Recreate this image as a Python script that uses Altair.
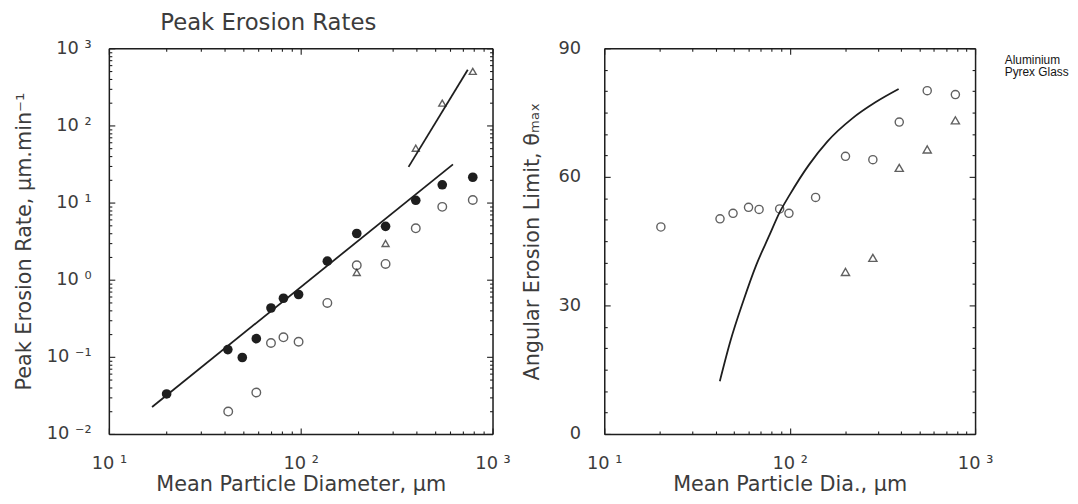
import json
import altair as alt
import pandas as pd

# ---------------- data ----------------
# Left panel: peak erosion rate vs mean particle diameter
filled_x = [20, 41.7, 49.6, 58.7, 70, 81.3, 97.5, 137.7, 196, 277, 398, 547, 789]
filled_y = [0.033, 0.124, 0.098, 0.172, 0.43, 0.575, 0.643, 1.74, 3.97, 4.92, 10.7, 17.0, 21.3]
open_x = [41.9, 58.7, 70, 81.3, 97.5, 137.7, 196, 277, 398, 547, 789]
open_y = [0.0195, 0.0345, 0.151, 0.179, 0.157, 0.50, 1.54, 1.60, 4.64, 8.8, 10.8]
tri_x = [196, 277, 398, 547, 789]
tri_y = [1.24, 2.95, 50.7, 195, 502]
fit_low_x = [16.8, 622]
fit_low_y = [0.0224, 31.3]
fit_high_x = [365, 743]
fit_high_y = [29, 527]

# Right panel: angular erosion limit vs mean particle diameter
alu_x = [20.2, 42.1, 49.5, 60, 68.4, 88.3, 99.1, 138, 200, 281, 390, 552, 783]
alu_y = [48.3, 50.2, 51.5, 52.9, 52.4, 52.5, 51.5, 55.2, 64.8, 64.0, 72.8, 80.1, 79.2]
pyrex_x = [200, 281, 390, 552, 783]
pyrex_y = [37.8, 41.1, 62.1, 66.4, 73.2]
curve_x = [42, 48, 56, 66, 78, 88, 100, 127, 160, 217, 290, 387]
curve_y = [12.3, 21.8, 30.8, 39.4, 46.5, 51.6, 55.8, 62.8, 68.3, 73.6, 77.4, 80.5]
materials = ["Aluminium", "Pyrex Glass"]

# ticks and tick labels
x_major = [10, 100, 1000]
x_major_labels = ["10 \u00b9", "10 \u00b2", "10 \u00b3"]
x_minor = [k * 10 for k in range(2, 10)] + [k * 100 for k in range(2, 10)]
ly_major = [0.01, 0.1, 1, 10, 100, 1000]
ly_major_labels = ["10 \u207b\u00b2", "10 \u207b\u00b9", "10 \u2070",
                   "10 \u00b9", "10 \u00b2", "10 \u00b3"]
ly_minor = [k * 10.0 ** e for e in range(-2, 3) for k in range(2, 10)]
ry_major = [0, 30, 60, 90]
ry_minor = [v for v in range(5, 90, 5) if v % 30 != 0]

# ---------------- style ----------------
FONT = "DejaVu Sans"
INK = "#1e1e1e"
TXT = "#3c3c3c"
LW, RW, H = 388, 375, 390
TICK_MAJ, TICK_MIN = 6, 3

x_lab_expr = f"{json.dumps(x_major_labels)}[round(log(datum.value)/LN10) - 1]"
ly_lab_expr = f"{json.dumps(ly_major_labels)}[round(log(datum.value)/LN10) + 2]"

xlog = alt.Scale(type="log", domain=[10, 1000], nice=False)
ylog = alt.Scale(type="log", domain=[0.01, 1000], nice=False)
ylin = alt.Scale(type="linear", domain=[0, 90], nice=False, zero=True)


def tick_axis(orient, offset, values, size, frame):
    return alt.Axis(orient=orient, offset=offset, values=values, tickSize=size,
                    labels=False, domain=frame, domainColor=INK, domainWidth=1.5,
                    grid=False, ticks=True, tickColor=INK, tickWidth=1.1, title=None)


def tick_layers(yscale, y_maj, y_min, W):
    anchor = pd.DataFrame({"x": [100], "y": [y_maj[1]]})
    layers = []
    for (xo, yo, xoff, yoff) in [("top", "right", -H, -W), ("bottom", "left", -H, -W)]:
        for vals_x, vals_y, size, frame in [(x_major, y_maj, TICK_MAJ, True),
                                            (x_minor, y_min, TICK_MIN, False)]:
            layers.append(
                alt.Chart(anchor).mark_point(opacity=0).encode(
                    x=alt.X("x:Q", scale=xlog, axis=tick_axis(xo, xoff, vals_x, size, frame)),
                    y=alt.Y("y:Q", scale=yscale, axis=tick_axis(yo, yoff, vals_y, size, frame)),
                )
            )
    return layers


def main_x(title):
    return alt.X("x:Q", scale=xlog, axis=alt.Axis(
        orient="bottom", values=x_major, labelExpr=x_lab_expr, ticks=False, domain=False,
        grid=False, labelPadding=21, labelFontSize=18, labelFont=FONT, labelColor=TXT,
        labelFlush=False, labelOverlap=False, title=title, titleFontSize=21,
        titleFont=FONT, titleFontWeight="normal", titleColor=TXT, titlePadding=1))


def plain_x():
    return alt.X("x:Q", scale=xlog, axis=None)


# ---------------- left panel ----------------
df_filled = pd.DataFrame({"x": filled_x, "y": filled_y})
df_open = pd.DataFrame({"x": open_x, "y": open_y})
df_tri = pd.DataFrame({"x": tri_x, "y": tri_y})
df_fit = pd.DataFrame({
    "x": fit_low_x + fit_high_x,
    "y": fit_low_y + fit_high_y,
    "line": ["low"] * len(fit_low_x) + ["high"] * len(fit_high_x),
})

left_y = alt.Y("y:Q", scale=ylog, axis=alt.Axis(
    orient="left", values=ly_major, labelExpr=ly_lab_expr, ticks=False, domain=False,
    grid=False, labelPadding=18, labelFontSize=18, labelFont=FONT, labelColor=TXT,
    labelFlush=False, labelOverlap=False, title="Peak Erosion Rate, \u03bcm.min\u207b\u00b9",
    titleFontSize=21, titleFont=FONT, titleFontWeight="normal", titleColor=TXT,
    titlePadding=12))

fit = alt.Chart(df_fit).mark_line(color=INK, strokeWidth=1.8).encode(
    x=main_x("Mean Particle Diameter, \u03bcm"), y=left_y, detail="line:N")
pts_open = alt.Chart(df_open).mark_point(shape="circle", filled=False, size=75,
                                         strokeWidth=1.4, color=INK).encode(
    x=plain_x(), y=alt.Y("y:Q", scale=ylog, axis=None))
pts_tri = alt.Chart(df_tri).mark_point(shape="triangle-up", filled=False, size=50,
                                       strokeWidth=1.4, color=INK).encode(
    x=plain_x(), y=alt.Y("y:Q", scale=ylog, axis=None))
pts_filled = alt.Chart(df_filled).mark_point(shape="circle", filled=True, size=95,
                                             opacity=1, color=INK).encode(
    x=plain_x(), y=alt.Y("y:Q", scale=ylog, axis=None))

left = alt.layer(fit, pts_open, pts_tri, pts_filled,
                 *tick_layers(ylog, ly_major, ly_minor, LW)).resolve_axis(
    x="independent", y="independent").properties(width=LW, height=H)

# ---------------- right panel ----------------
df_right = pd.DataFrame({
    "x": alu_x + pyrex_x,
    "y": alu_y + pyrex_y,
    "material": [materials[0]] * len(alu_x) + [materials[1]] * len(pyrex_x),
})
df_curve = pd.DataFrame({"x": curve_x, "y": curve_y})

right_y = alt.Y("y:Q", scale=ylin, axis=alt.Axis(
    orient="left", values=ry_major, ticks=False, domain=False, grid=False,
    labelPadding=24, labelFontSize=18, labelFont=FONT, labelColor=TXT,
    labelFlush=False, labelOverlap=False,
    title="Angular Erosion Limit, \u03b8\u2098\u2090\u2093", titleFontSize=21, titleFont=FONT,
    titleFontWeight="normal", titleColor=TXT, titlePadding=16))

curve = alt.Chart(df_curve).mark_line(color=INK, strokeWidth=1.8, interpolate="monotone").encode(
    x=main_x("Mean Particle Dia., \u03bcm"), y=right_y)
pts_right = alt.Chart(df_right).mark_point(filled=False, strokeWidth=1.4, color=INK, size=68).encode(
    x=plain_x(),
    y=alt.Y("y:Q", scale=ylin, axis=None),
    shape=alt.Shape("material:N", scale=alt.Scale(domain=materials, range=["circle", "triangle-up"]),
                    legend=alt.Legend(orient="none", legendX=RW + 18, legendY=6, title=None,
                                      symbolSize=1, symbolOpacity=0, symbolStrokeWidth=0,
                                      labelOffset=0, padding=0, rowPadding=0.5,
                                      labelFontSize=12, labelFont="Liberation Sans",
                                      labelColor="#151515")),
)

right = alt.layer(curve, pts_right,
                  *tick_layers(ylin, ry_major, ry_minor, RW)).resolve_axis(
    x="independent", y="independent").properties(width=RW, height=H)

chart = alt.hconcat(left, right, spacing=113, bounds="flush").resolve_legend(
    shape="independent").properties(
    title=alt.TitleParams("Peak Erosion Rates", anchor="start", frame="group", dx=52,
                          fontSize=23, fontWeight="normal", font=FONT, color=TXT, offset=4),
    padding={"left": 5, "top": 1, "right": 0, "bottom": 0},
).configure_view(stroke=INK, strokeWidth=1.5).configure(background="white")

chart.save("out.html", embed_options={"renderer": "svg", "actions": False})
